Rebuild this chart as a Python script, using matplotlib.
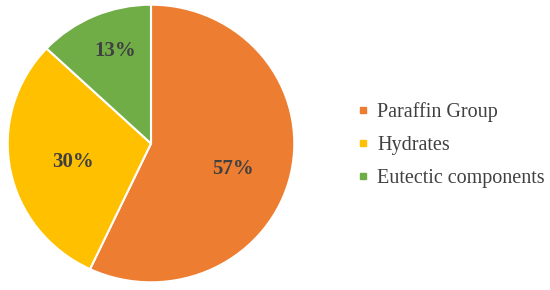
import numpy as np
import matplotlib.pyplot as plt
from matplotlib.lines import Line2D

labels = ["Paraffin Group", "Hydrates", "Eutectic components"]
shares = [57, 30, 13]
colors = ["#ED7D31", "#FFC000", "#70AD47"]

plt.rcParams['font.family'] = ['Liberation Serif', 'DejaVu Serif']
txt = "#404040"

fig = plt.figure(figsize=(5.5, 2.9), dpi=100)
ax = fig.add_axes([7 / 550, 7 / 290, 288 / 550, 279 / 290])

wedges, _ = ax.pie(shares, colors=colors, startangle=90, counterclock=False,
                   wedgeprops=dict(edgecolor="white", linewidth=1.5))
ax.set_xlim(-1.005, 1.005)
ax.set_ylim(-1.005, 1.005)
ax.set_aspect("auto")

# percentage labels near the mid angle of each wedge
dists = [0.6, 0.56, 0.71]
shift = [-5, 3, -3]
for w, s, d, a in zip(wedges, shares, dists, shift):
    mid = np.deg2rad((w.theta1 + w.theta2) / 2 + a)
    ax.text(d * np.cos(mid), d * np.sin(mid), f"{s}%", ha="center", va="center",
            fontsize=15, fontweight="bold", color=txt)

handles = [Line2D([], [], marker="s", linestyle="none", markersize=5,
                  markerfacecolor=c, markeredgecolor=c) for c in colors]
leg = fig.legend(handles, labels, loc="center left", bbox_to_anchor=(345 / 550, 145 / 290),
                 frameon=False, fontsize=14.5, handlelength=0.8, handletextpad=0.3,
                 labelspacing=0.68, borderpad=0)
for t in leg.get_texts():
    t.set_color(txt)

fig.savefig("out.png", dpi=100)
